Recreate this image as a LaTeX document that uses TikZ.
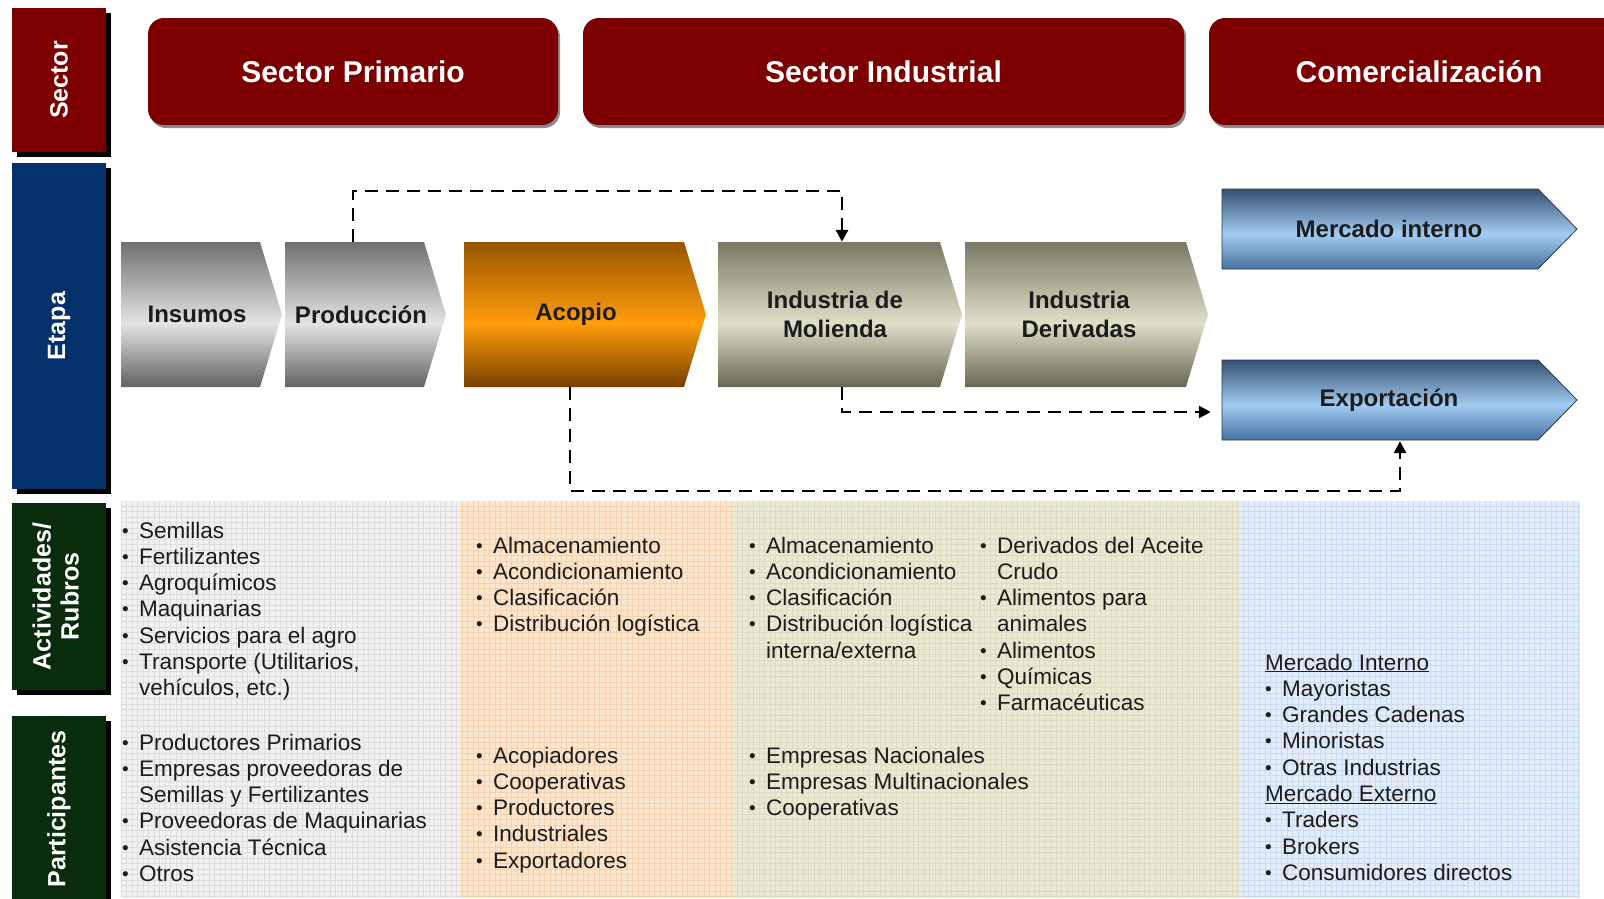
\documentclass[tikz,border=0pt]{standalone}
\usepackage{fontspec}
\setmainfont{Liberation Sans}
\usetikzlibrary{arrows.meta,calc,shadows}
\definecolor{secred}{RGB}{125,0,0}
\definecolor{etnavy}{RGB}{4,48,108}
\definecolor{actgreen}{RGB}{8,44,12}
\definecolor{gTop}{RGB}{112,112,112}
\definecolor{gMid}{RGB}{228,228,228}
\definecolor{gBot}{RGB}{98,98,98}
\definecolor{oTop}{RGB}{150,84,0}
\definecolor{oMid}{RGB}{255,158,12}
\definecolor{oBot}{RGB}{118,62,0}
\definecolor{iTop}{RGB}{120,120,100}
\definecolor{iMid}{RGB}{224,224,202}
\definecolor{iBot}{RGB}{102,102,82}
\definecolor{bTop}{RGB}{52,80,112}
\definecolor{bMid}{RGB}{162,204,242}
\definecolor{bBot}{RGB}{72,114,160}
\definecolor{c1bg}{RGB}{241,241,241}
\definecolor{c1gr}{RGB}{222,222,222}
\definecolor{c2bg}{RGB}{253,230,206}
\definecolor{c2gr}{RGB}{244,210,176}
\definecolor{c3bg}{RGB}{234,234,212}
\definecolor{c3gr}{RGB}{220,220,194}
\definecolor{c4bg}{RGB}{228,238,251}
\definecolor{c4gr}{RGB}{202,218,242}
\definecolor{txt}{RGB}{28,28,28}
\pgfdeclareverticalshading{grayshade}{100bp}{color(0bp)=(gBot); color(25bp)=(gBot); color(47bp)=(gMid); color(75bp)=(gTop); color(100bp)=(gTop)}
\pgfdeclareverticalshading{orangeshade}{100bp}{color(0bp)=(oBot); color(25bp)=(oBot); color(47bp)=(oMid); color(75bp)=(oTop); color(100bp)=(oTop)}
\pgfdeclareverticalshading{indshade}{100bp}{color(0bp)=(iBot); color(25bp)=(iBot); color(47bp)=(iMid); color(75bp)=(iTop); color(100bp)=(iTop)}
\pgfdeclareverticalshading{blueshade}{100bp}{color(0bp)=(bBot); color(25bp)=(bBot); color(47bp)=(bMid); color(75bp)=(bTop); color(100bp)=(bTop)}
\newcommand\bl{\makebox[17pt][l]{\raisebox{1pt}{\fontsize{19}{19}\selectfont\textbullet}}}
% x1, xflat, xtip, y1, y2, shading
\newcommand\stageshape[6]{\shade[shading=#6] (#1,#4) -- (#2,#4) -- (#3,{(#4+#5)/2}) -- (#2,#5) -- (#1,#5) -- cycle;}
\tikzset{
  sechead/.style={fill=secred, rounded corners=16pt, text=white, font=\fontsize{30}{36}\selectfont\bfseries, minimum height=107pt, inner sep=0pt, drop shadow={shadow xshift=2pt, shadow yshift=-3pt, fill=black, opacity=0.45}},
  sidebox/.style={minimum width=94pt, inner sep=0pt, text=white, font=\fontsize{25}{28}\selectfont\bfseries, drop shadow={shadow xshift=5pt, shadow yshift=-5pt, fill=black, opacity=1}},
  stagetxt/.style={inner sep=0pt, minimum height=145pt, text=txt, align=center, font=\fontsize{24}{29}\selectfont\bfseries},
  bluetxt/.style={inner sep=0pt, minimum height=80pt, text=txt, align=center, font=\fontsize{24}{29}\selectfont\bfseries},
  listtxt/.style={anchor=base west, inner sep=0pt, text=txt, font=\fontsize{22.5}{26.3}\selectfont},
  dashline/.style={draw=black, line width=2.9pt, dash pattern=on 13pt off 8pt},
  tip/.style={-{Triangle[length=12pt,width=12pt]}}
}
\begin{document}
\begin{tikzpicture}[x=1pt,y=-1pt]
\useasboundingbox (0,0) rectangle (1604,898);
\clip (0,0) rectangle (1604,898);
\fill[white] (0,0) rectangle (1604,898);
% grid backgrounds
\fill[c1bg] (121,501) rectangle (460,898);
\draw[c1gr, line width=0.6pt, step=5.5pt] (121,898) grid (460,501);
\fill[c2bg] (460,501) rectangle (734,898);
\draw[c2gr, line width=0.6pt, step=5.5pt] (460,898) grid (734,501);
\fill[c3bg] (734,501) rectangle (1240,898);
\draw[c3gr, line width=0.6pt, step=5.5pt] (734,898) grid (1240,501);
\fill[c4bg] (1240,501) rectangle (1580,898);
\draw[c4gr, line width=0.6pt, step=5.5pt] (1240,898) grid (1580,501);
% side labels
\node[sidebox, fill=secred, minimum height=144pt] (lsec) at (59,80) {\rotatebox{90}{Sector}};
\node[sidebox, fill=etnavy, minimum height=326pt] (leta) at (59,326) {\rotatebox{90}{Etapa}};
\node[sidebox, fill=actgreen, minimum height=187pt] (lact) at (59,596.5) {\rotatebox{90}{\begin{tabular}{@{}c@{}}Actividades/\\Rubros\end{tabular}}};
\node[sidebox, fill=actgreen, minimum height=186pt] (lpar) at (59,809) {\rotatebox{90}{Participantes}};
% sector headers
\node[sechead, minimum width=410pt] (sp) at (353,71.5) {Sector Primario};
\node[sechead, minimum width=601pt] (si) at (883.5,71.5) {Sector Industrial};
\node[sechead, minimum width=420pt] (com) at (1419,71.5) {Comercialización};
% stage shapes
\stageshape{121}{260}{282}{242}{387}{grayshade}
\stageshape{285}{424}{446}{242}{387}{grayshade}
\stageshape{464}{684}{706}{242}{387}{orangeshade}
\stageshape{718}{940}{962}{242}{387}{indshade}
\stageshape{965}{1186}{1208}{242}{387}{indshade}
\shade[shading=blueshade, draw=bTop!70!black, line width=0.8pt] (1222,189) -- (1538,189) -- (1577,229) -- (1538,269) -- (1222,269) -- cycle;
\shade[shading=blueshade, draw=bTop!70!black, line width=0.8pt] (1222,360) -- (1538,360) -- (1577,400) -- (1538,440) -- (1222,440) -- cycle;
% stage texts
\node[stagetxt, minimum width=150pt] (ins) at (197,314.5) {Insumos};
\node[stagetxt, minimum width=150pt] (prod) at (361,314.5) {Producción};
\node[stagetxt, minimum width=220pt] (acop) at (576,314.5) {Acopio};
\node[stagetxt, minimum width=220pt] (mol) at (835,314.5) {Industria de\\Molienda};
\node[stagetxt, minimum width=220pt] (der) at (1079,314.5) {Industria\\Derivadas};
\node[bluetxt, minimum width=334pt] (mer) at (1389,229) {Mercado interno};
\node[bluetxt, minimum width=334pt] (exp) at (1389,400) {Exportación};
% connectors
\coordinate (b1) at (353,191);
\coordinate (b2) at (842,191);
\coordinate (b3) at (842,412);
\coordinate (b4) at (570,491);
\coordinate (b5) at (1400,491);
\draw[dashline, tip] (prod.north -| b1) -- (b1) -- (b2) -- (mol.north -| b2);
\draw[dashline, tip, shorten >=11pt] (mol.south -| b3) -- (b3) -- (b3 -| exp.west);
\draw[dashline, tip, shorten >=1pt] (acop.south -| b4) -- (b4) -- (b5) -- (exp.south -| b5);
% lists
\node[listtxt] (a1) at (122,538) {\begin{tabular}[t]{@{}l@{}l@{}}\bl&Semillas\\\bl&Fertilizantes\\\bl&Agroquímicos\\\bl&Maquinarias\\\bl&Servicios para el agro\\\bl&Transporte (Utilitarios,\\&vehículos, etc.)\end{tabular}};
\node[listtxt] (p1) at (122,750) {\begin{tabular}[t]{@{}l@{}l@{}}\bl&Productores Primarios\\\bl&Empresas proveedoras de\\&Semillas y Fertilizantes\\\bl&Proveedoras de Maquinarias\\\bl&Asistencia Técnica\\\bl&Otros\end{tabular}};
\node[listtxt] (a2) at (476,553) {\begin{tabular}[t]{@{}l@{}l@{}}\bl&Almacenamiento\\\bl&Acondicionamiento\\\bl&Clasificación\\\bl&Distribución logística\end{tabular}};
\node[listtxt] (p2) at (476,763) {\begin{tabular}[t]{@{}l@{}l@{}}\bl&Acopiadores\\\bl&Cooperativas\\\bl&Productores\\\bl&Industriales\\\bl&Exportadores\end{tabular}};
\node[listtxt] (a3) at (749,553) {\begin{tabular}[t]{@{}l@{}l@{}}\bl&Almacenamiento\\\bl&Acondicionamiento\\\bl&Clasificación\\\bl&Distribución logística\\&interna/externa\end{tabular}};
\node[listtxt] (a3b) at (980,553) {\begin{tabular}[t]{@{}l@{}l@{}}\bl&Derivados del Aceite\\&Crudo\\\bl&Alimentos para\\&animales\\\bl&Alimentos\\\bl&Químicas\\\bl&Farmacéuticas\end{tabular}};
\node[listtxt] (p3) at (749,763) {\begin{tabular}[t]{@{}l@{}l@{}}\bl&Empresas Nacionales\\\bl&Empresas Multinacionales\\\bl&Cooperativas\end{tabular}};
\node[listtxt] (a4) at (1265,670) {\begin{tabular}[t]{@{}l@{}l@{}}\multicolumn{2}{@{}l@{}}{\underline{Mercado Interno}}\\\bl&Mayoristas\\\bl&Grandes Cadenas\\\bl&Minoristas\\\bl&Otras Industrias\\\multicolumn{2}{@{}l@{}}{\underline{Mercado Externo}}\\\bl&Traders\\\bl&Brokers\\\bl&Consumidores directos\end{tabular}};
\end{tikzpicture}
\end{document}
